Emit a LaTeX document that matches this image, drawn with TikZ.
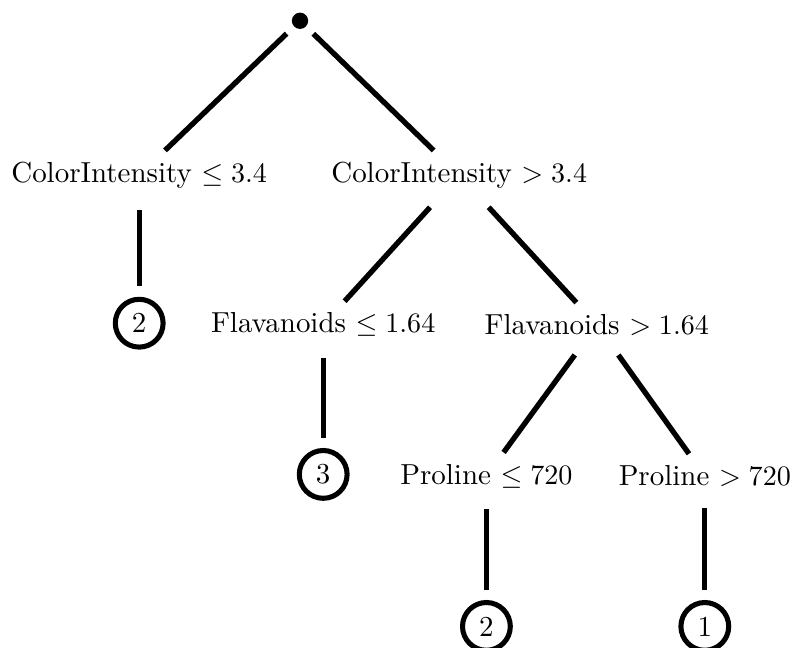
\documentclass[tikz,border=0pt]{standalone}
\usetikzlibrary{calc}
\tikzset{
  branch/.style={line width=1.9pt},
  fromsplit/.style={branch,shorten <=3.5pt},
  split/.style={inner sep=3.33pt,outer sep=.8pt,font=\fontsize{10.3}{12}\selectfont},
  leafnode/.style={circle,draw,line width=1.8pt,minimum size=17pt,inner sep=0pt,outer sep=4.6pt,
    font=\fontsize{10.3}{12}\selectfont},
  rootdot/.style={circle,fill,minimum size=5.8pt,inner sep=0pt,outer sep=3.7pt},
}
\begin{document}
\begin{tikzpicture}[x=1cm,y=1cm]
  \useasboundingbox (0,0) rectangle (9.9125,-8.0875);

  \node[rootdot] (root) at (3.75,-.26) {};

  % first split
  \node[split] (ciLow) at (1.74,-2.19) {ColorIntensity $\leq 3.4$};
  \node[split] (ciHigh) at (5.74,-2.19) {ColorIntensity $> 3.4$};
  \node[leafnode] (leafA) at (1.74,-4.04) {2};

  % second split
  \node[split] (flLow) at (4.04,-4.06) {Flavanoids $\leq 1.64$};
  \node[split] (flHigh) at (7.46,-4.06) {Flavanoids $> 1.64$};
  \node[leafnode] (leafB) at (4.04,-5.93) {3};

  % third split
  \node[split] (prLow) at (6.08,-5.95) {Proline $\leq 720$};
  \node[split] (prHigh) at (8.81,-5.95) {Proline $> 720$};
  \node[leafnode] (leafC) at (6.08,-7.83) {2};
  \node[leafnode] (leafD) at (8.81,-7.83) {1};

  \foreach \a/\b in {root/ciLow,root/ciHigh}
    \draw[branch] (\a) -- (\b);
  \foreach \a/\b in {ciLow/leafA,ciHigh/flLow,ciHigh/flHigh,flLow/leafB,
                     flHigh/prLow,flHigh/prHigh,prLow/leafC,prHigh/leafD}
    \draw[fromsplit] (\a) -- (\b);
\end{tikzpicture}
\end{document}
